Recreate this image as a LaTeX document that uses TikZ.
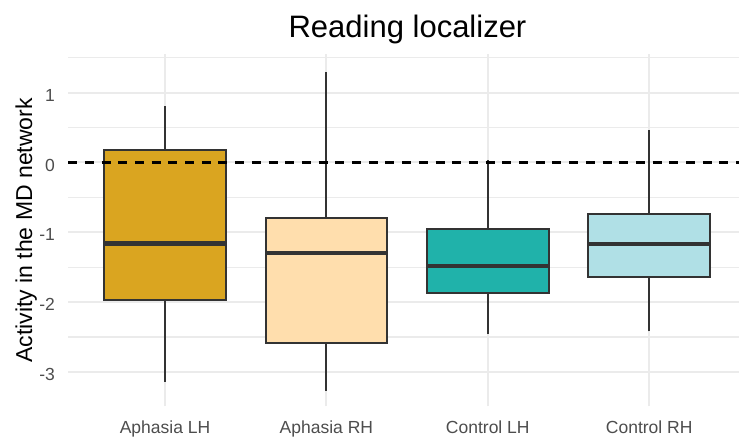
\documentclass[tikz,border=0pt]{standalone}
\usepackage{fontspec}
\setmainfont{Liberation Sans}

\definecolor{gridgray}{HTML}{EBEBEB}
\definecolor{boxedge}{HTML}{333333}
\definecolor{ticktext}{HTML}{4D4D4D}
\definecolor{aphLH}{HTML}{DAA520}
\definecolor{aphRH}{HTML}{FFDEAD}
\definecolor{conLH}{HTML}{20B2AA}
\definecolor{conRH}{HTML}{B0E0E6}

% one box: position, fill, lower whisker, Q1, median, Q3, upper whisker
\newcommand{\bxplot}[7]{%
  \draw[whisker] (#1,#3) -- (#1,#4);
  \draw[whisker] (#1,#6) -- (#1,#7);
  \filldraw[boxline, fill=#2] (#1-0.377,#4) rectangle (#1+0.377,#6);
  \draw[medianline] (#1-0.377,#5) -- (#1+0.377,#5);
}

\begin{document}
\begin{tikzpicture}[x=1pt, y=1pt,
  majorgrid/.style={draw=gridgray, line width=2pt},
  minorgrid/.style={draw=gridgray, line width=1.1pt},
  whisker/.style={draw=boxedge, line width=2.1pt},
  boxline/.style={draw=boxedge, line width=2.1pt, line join=miter},
  medianline/.style={draw=boxedge, line width=4.2pt},
  zeroline/.style={draw=black, line width=2.1pt, dash pattern=on 9pt off 7.7pt},
  ticklabel/.style={text=ticktext, inner sep=0pt, font=\fontsize{17.5}{20}\selectfont},
  axistitle/.style={text=black, inner sep=0pt, font=\fontsize{23}{26}\selectfont},
  plottitle/.style={text=black, inner sep=0pt, font=\fontsize{31}{34}\selectfont}]

\useasboundingbox (0,0) rectangle (739,439);
\fill[white] (0,0) rectangle (739,439);

\begin{scope}
\clip (0,0) rectangle (739,439);
\begin{scope}[shift={(3.6pt,276.5pt)}, x=161.4pt, y=69.8pt]
  % panel grid
  \foreach \v in {-2.5,-1.5,-0.5,0.5,1.5}
    \draw[minorgrid] (0.4,\v) -- (4.6,\v);
  \foreach \v in {-3,-2,-1,0,1}
    \draw[majorgrid] (0.4,\v) -- (4.6,\v);
  \foreach \k in {1,2,3,4}
    \draw[majorgrid] (\k,-3.49) -- (\k,1.55);

  % boxes
  \bxplot{1}{aphLH}{-3.14}{-1.97}{-1.16}{0.18}{0.81}
  \bxplot{2}{aphRH}{-3.27}{-2.58}{-1.30}{-0.80}{1.30}
  \bxplot{3}{conLH}{-2.46}{-1.87}{-1.48}{-0.95}{0.035}
  \bxplot{4}{conRH}{-2.42}{-1.64}{-1.17}{-0.74}{0.47}

  % reference line at zero
  \coordinate (zl) at (0.4,0);
  \coordinate (zr) at (4.6,0);
  \draw[zeroline] (zl) -- (zr);

  % y tick labels
  \foreach \v/\t in {1/1,0/0,-1/-1,-2/-2,-3/-3}
    \node[ticklabel, anchor=base east, xshift=-13pt, yshift=-8.6pt] (yt\v) at (0.4,\v) {\t};

  % x tick labels
  \foreach \k/\t in {1/Aphasia LH,2/Aphasia RH,3/Control LH,4/Control RH}
    \node[ticklabel, anchor=base, yshift=-26.5pt] (xt\k) at (\k,-3.5) {\t};
\end{scope}
\end{scope}

% titles
\node[plottitle, anchor=base] (title) at (407.5,401.5) {Reading localizer};
\node[axistitle, anchor=base, rotate=90] (ytitle) at (32,208.5) {Activity in the MD network};
\end{tikzpicture}
\end{document}
